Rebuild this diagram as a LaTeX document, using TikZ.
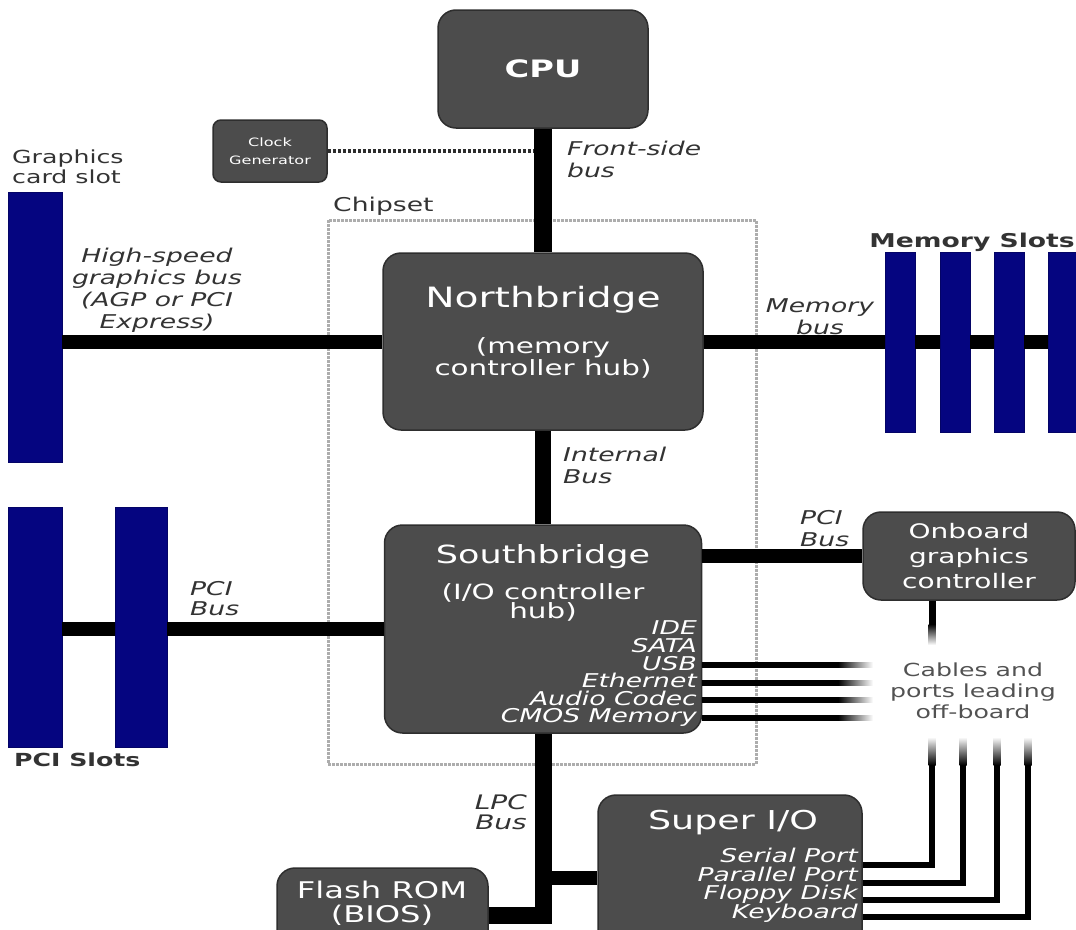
\documentclass[tikz,border=0pt]{standalone}
\usepackage{fontspec}
\setmainfont{DejaVu Sans}[FakeStretch=1.4]
\usetikzlibrary{calc}

\begin{document}
\begin{tikzpicture}[x=1pt, y=-1pt,
    chip/.style={draw=chipedge, line width=1.5pt, fill=chipfill, rounded corners=18pt, inner sep=0pt},
    chiptext/.style={text=white, inner sep=0pt, align=center},
    slot/.style={fill=slotblue, draw=slotblue!80!black, inner sep=0pt},
    bus/.style={line width=14pt, black},
    wire/.style={line width=5.5pt, black},
    buslabel/.style={text=labelgray, inner sep=0pt, font=\itshape\fontsize{19}{22}\selectfont},
    plainlabel/.style={text=labelgray, inner sep=0pt, font=\fontsize{18}{20}\selectfont}]

        % Define colors for chips and slots
        \definecolor{chipfill}{rgb}{0.30, 0.30, 0.30} % Dark gray
        \definecolor{chipedge}{rgb}{0.18, 0.18, 0.18}
        \definecolor{slotblue}{rgb}{0.02, 0.02, 0.50} % Navy
        \definecolor{labelgray}{rgb}{0.20, 0.20, 0.20}
        \definecolor{chipsetgray}{rgb}{0.68, 0.68, 0.68}

        % Fix the frame
        \useasboundingbox (0,0) rectangle (1076,929);
        \clip (0,0) rectangle (1076,929);

        % Chipset outline
        \node[draw=chipsetgray, densely dotted, line width=3pt, minimum width=428, minimum height=544, inner sep=0pt] (chipset) at (542,492) {};
        \node[plainlabel, anchor=west, font=\fontsize{19}{21}\selectfont] (chipsetlbl) at (333,206) {Chipset};

        % Draw chips
        \node[chip, minimum width=210, minimum height=118, text=white, font=\bfseries\fontsize{24}{26}\selectfont] (cpu) at (543,69) {CPU};
        \node[chip, rounded corners=8pt, minimum width=114, minimum height=62, text=white, align=center, font=\fontsize{11.5}{18}\selectfont] (clk) at (270,151) {Clock\\Generator};
        \node[chip, minimum width=320, minimum height=177] (nb) at (543,341.5) {};
        \node[chiptext, font=\fontsize{28}{30}\selectfont] (nbtitle) at (543,300) {Northbridge};
        \node[chiptext, font=\fontsize{21}{20}\selectfont] (nbsub) at (543,358) {(memory\\controller hub)};
        \node[chip, minimum width=317, minimum height=208] (sb) at (543,629) {};
        \node[chiptext, font=\fontsize{25}{27}\selectfont] (sbtitle) at (543,557) {Southbridge};
        \node[chiptext, font=\fontsize{21}{19}\selectfont] (sbsub) at (543,602) {(I/O controller\\hub)};
        \node[chiptext, anchor=east, align=right, font=\itshape\fontsize{19}{17.6}\selectfont] (sblist) at (697,674) {IDE\\SATA\\USB\\Ethernet\\Audio Codec\\CMOS Memory};
        \node[chip, minimum width=212, minimum height=88, text=white, align=center, font=\fontsize{20}{25}\selectfont] (ogc) at (969,556) {Onboard\\graphics\\controller};
        \node[chip, minimum width=264, minimum height=166] (sio) at (730,878) {};
        \node[chiptext, font=\fontsize{26}{28}\selectfont] (siotitle) at (733,823) {Super I/O};
        \node[chiptext, anchor=east, align=right, font=\itshape\fontsize{19}{18.3}\selectfont] (siolist) at (858,885.5) {Serial Port\\Parallel Port\\Floppy Disk\\Keyboard};
        \node[chip, minimum width=211, minimum height=94] (rom) at (382.5,915) {};
        \node[chiptext, font=\fontsize{23}{24}\selectfont] (romtxt) at (382,903) {Flash ROM\\(BIOS)};

        % Draw slots
        \node[slot, minimum width=54, minimum height=270] (agp) at (35,327) {};
        \foreach \i/\x in {1/900, 2/955, 3/1009, 4/1063}
            \node[slot, minimum width=30, minimum height=180] (mem\i) at (\x,342) {};
        \node[slot, minimum width=54, minimum height=240] (pci1) at (35,627) {};
        \node[slot, minimum width=52, minimum height=240] (pci2) at (141,627) {};

        % Draw buses
        \draw[dash pattern=on 3pt off 2pt, line width=3.5pt, chipedge] (clk.east) -- (clk.east -| cpu.south);
        \draw[bus, line width=18pt] (cpu.south) -- (nb.north);
        \draw[bus] (nb.west) -- (agp.east |- nb.west);
        \draw[bus] (nb.east) -- (mem1.west |- nb.east);
        \foreach \a/\b in {1/2, 2/3, 3/4}
            \draw[bus] (mem\a.east) -- (mem\b.west);
        \draw[bus, line width=16pt] (nb.south) -- (sb.north);
        \draw[bus] (sb.west) -- (pci2.east |- sb.west);
        \draw[bus] (pci1.east |- sb.west) -- (pci2.west |- sb.west);
        \draw[bus] (sb.east |- ogc.west) -- (ogc.west);
        \draw[bus, line width=17pt] (rom.east) -| (sb.south);
        \draw[bus] (sio.west) -- (sio.west -| sb.south);

        % Cables leading off-board
        \foreach \i/\y in {1/665, 2/683, 3/700, 4/718} {
            \coordinate (cab\i) at (873,\y);
            \draw[wire] (cab\i -| sb.east) -- ($(cab\i)+(-34,0)$);
            \shade[left color=black, right color=white] ($(cab\i)+(-35,-2.75)$) rectangle ($(cab\i)+(0,2.75)$);
        }
        \coordinate (ogcdrop) at (932,645);
        \draw[wire, line width=7pt] (ogcdrop |- ogc.south) -- ($(ogcdrop)+(0,-20)$);
        \shade[top color=black, bottom color=white] ($(ogcdrop)+(-3.5,-21)$) rectangle ($(ogcdrop)+(3.5,0)$);
        \foreach \i/\x/\y in {1/932/865, 2/963/883, 3/997/900, 4/1028/917} {
            \coordinate (port\i) at (\x,737);
            \draw[wire, line join=miter] (sio.east |- 0,\y) -| ($(port\i)+(0,27)$);
            \shade[top color=white, bottom color=black] ($(port\i)+(-3.5,0)$) rectangle ($(port\i)+(3.5,28)$);
        }

        % Bus labels
        \node[buslabel, anchor=west, align=left] (fsblbl) at (567,159) {Front-side\\bus};
        \node[buslabel, align=center] (agplbl) at (157,290) {High-speed\\graphics bus\\(AGP or PCI\\Express)};
        \node[buslabel, align=center] (memlbl) at (820,317) {Memory\\bus};
        \node[buslabel, anchor=west, align=left] (intlbl) at (563,465) {Internal\\Bus};
        \node[buslabel, anchor=west, align=left, font=\itshape\fontsize{19}{20}\selectfont] (pcilbl) at (190,599) {PCI\\Bus};
        \node[buslabel, anchor=west, align=left] (ogclbl) at (800,529) {PCI\\Bus};
        \node[buslabel, anchor=east, align=right, font=\itshape\fontsize{20}{20}\selectfont] (lpclbl) at (527,812) {LPC\\Bus};

        % Slot and cable labels
        \node[plainlabel, anchor=west, align=left] (gfxlbl) at (12,167) {Graphics\\card slot};
        \node[plainlabel, anchor=east, font=\bfseries\fontsize{19}{21}\selectfont] (memslotlbl) at (1075,242) {Memory Slots};
        \node[plainlabel, anchor=west, font=\bfseries\fontsize{18}{20}\selectfont] (pcislotlbl) at (14,760) {PCI Slots};
        \node[plainlabel, align=center, text=labelgray!85, font=\fontsize{18}{21}\selectfont] (cablelbl) at (973,691) {Cables and\\ports leading\\off-board};
\end{tikzpicture}
\end{document}
